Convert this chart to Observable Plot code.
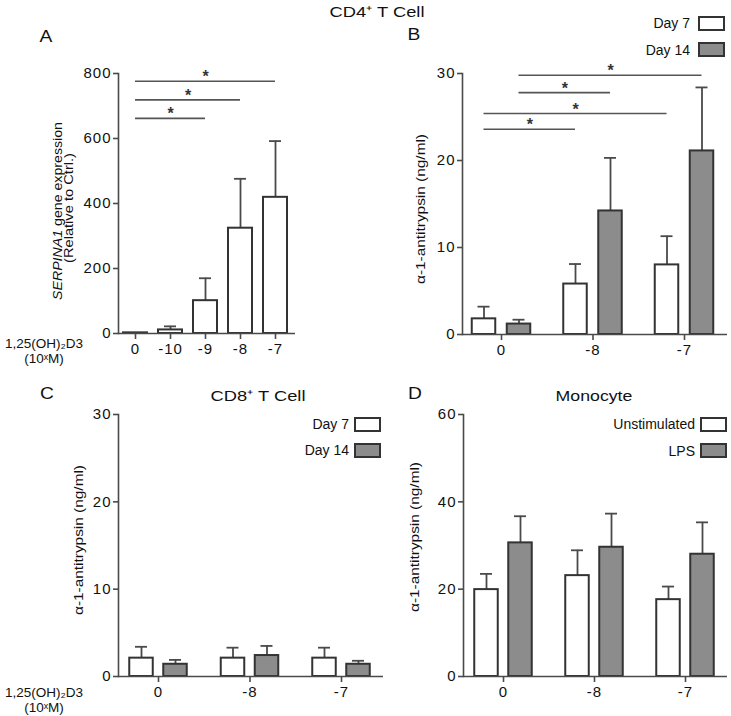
<!DOCTYPE html>
<html><head><meta charset="utf-8">
<script src="https://cdn.jsdelivr.net/npm/d3@7"></script>
<script src="https://cdn.jsdelivr.net/npm/@observablehq/plot@0.6"></script>
<style>
body{margin:0;background:#fff;}
#fig{position:relative;width:731px;height:716px;font-family:"Liberation Sans",Arial,sans-serif;color:#111;overflow:hidden;background:#fff}
.t{position:absolute;white-space:nowrap;line-height:1}
.wrap{position:absolute}
#labels{position:absolute;left:0;top:0;overflow:visible;pointer-events:none}
</style></head><body><div id="fig"></div>
<script>
// ---------- data ----------
// Panel A: CD4+ T cell, SERPINA1 gene expression (relative to control)
const doseA = ["0", "-10", "-9", "-8", "-7"];
const serpinaMean = [2, 11, 101, 324, 419];
const serpinaErr = [0, 11, 69, 152, 173];
const sigAFrom = ["0", "0", "0"];
const sigATo = ["-7", "-8", "-9"];
const sigALevel = [776, 719, 662];

// Panel B: CD4+ T cell, alpha-1-antitrypsin (ng/ml)
const doseB = ["0", "-8", "-7"];
const cd4Day7Mean = [1.8, 5.8, 8.0];
const cd4Day7Err = [1.4, 2.3, 3.3];
const cd4Day14Mean = [1.2, 14.2, 21.1];
const cd4Day14Err = [0.5, 6.1, 7.3];
const sigBFrom = ["0", "0", "0", "0"];
const sigBTo = ["-7", "-8", "-7", "-8"];
const sigBSeries = ["Day 14", "Day 14", "Day 7", "Day 7"];
const sigBLevel = [29.8, 27.8, 25.4, 23.6];

// Panel C: CD8+ T cell
const doseC = ["0", "-8", "-7"];
const cd8Day7Mean = [2.1, 2.1, 2.1];
const cd8Day7Err = [1.3, 1.2, 1.2];
const cd8Day14Mean = [1.4, 2.4, 1.4];
const cd8Day14Err = [0.5, 1.1, 0.4];

// Panel D: Monocyte
const doseD = ["0", "-8", "-7"];
const unstimMean = [19.9, 23.1, 17.6];
const unstimErr = [3.6, 5.8, 3.0];
const lpsMean = [30.6, 29.6, 28.0];
const lpsErr = [6.1, 7.7, 7.3];

const ticksA = [0, 200, 400, 600, 800];
const ticks30 = [0, 10, 20, 30];
const ticks60 = [0, 20, 40, 60];

// ---------- styles ----------
const AX = "#4a4a4a", BAR = "#333", GREY = "#8c8c8c", FONT = '"Liberation Sans", Arial, sans-serif';
const fig = document.getElementById("fig");

function panel(o) {
  const n = o.doses.length;
  const step = (o.xRange[1] - o.xRange[0]) / (n - 1);
  const half = o.barPx / 2 / step;      // half bar width in index units
  const cap = o.capPx / 2 / step;       // half cap width
  const rows = o.series.flatMap(s => s.mean.map((v, i) => ({i, v, e: s.err[i], off: s.offPx / step, name: s.name})));
  const xi = d => o.doses.indexOf(d);
  const marks = [];
  const eb = rows.filter(r => r.e > 0);
  marks.push(Plot.ruleX(eb, {x: r => r.i + r.off, y1: "v", y2: r => r.v + r.e, stroke: AX, strokeWidth: 1.8}));
  marks.push(Plot.ruleY(eb, {y: r => r.v + r.e, x1: r => r.i + r.off - cap, x2: r => r.i + r.off + cap, stroke: AX, strokeWidth: 1.8}));
  for (const s of o.series) {
    const rs = rows.filter(r => r.name === s.name);
    marks.push(Plot.rectY(rs, {x1: r => r.i + r.off - half, x2: r => r.i + r.off + half, y1: 0, y2: "v",
      fill: s.fill, stroke: BAR, strokeWidth: 2}));
  }
  if (o.sig) {
    const offOf = name => (o.series.find(s => s.name === name).offPx) / step;
    marks.push(Plot.ruleY(o.sig, {y: "y", x1: d => xi(d.from) + offOf(d.series), x2: d => xi(d.to) + offOf(d.series), stroke: "#555", strokeWidth: 1.6}));
    marks.push(Plot.text(o.sig, {x: d => (xi(d.from) + xi(d.to)) / 2 + offOf(d.series), y: "y", text: () => "*", fontSize: 16, fontWeight: "bold", dy: -4, fill: "#333"}));
  }
  marks.push(Plot.ruleY([0], {stroke: AX, strokeWidth: 1.6}));
  marks.push(Plot.frame({anchor: "left", stroke: AX, strokeWidth: 1.6}));
  marks.push(Plot.axisY({ticks: o.yTicks, tickSize: 5, tickPadding: 2, fontSize: 15, stroke: AX, strokeWidth: 1.6, fill: "#111", label: null}));
  marks.push(Plot.axisX({ticks: o.doses.map((_, i) => i), tickFormat: i => o.doses[i], tickSize: 6, tickPadding: 4, fontSize: 15, stroke: AX, strokeWidth: 1.6, fill: "#111", label: null}));

  const chart = Plot.plot({
    width: o.width, height: o.height,
    marginLeft: o.mL, marginRight: o.mR, marginTop: o.mT, marginBottom: o.mB,
    x: {type: "linear", domain: [0, n - 1], range: o.xRange},
    y: {domain: o.yDomain},
    style: {background: "transparent", overflow: "visible", fontFamily: FONT, maxWidth: "none"},
    marks
  });
  chart.querySelectorAll('g[aria-label="y-axis tick label"] text, g[aria-label="x-axis tick label"] text')
    .forEach(t => t.style.letterSpacing = "1px");
  const w = document.createElement("div");
  w.className = "wrap";
  w.style.left = o.left + "px"; w.style.top = o.top + "px"; w.style.width = o.width + "px"; w.style.height = o.height + "px";
  w.appendChild(chart);
  fig.appendChild(w);
}

const zipSig = (from, to, level, series) => from.map((f, k) => ({from: f, to: to[k], y: level[k], series: series ? series[k] : "s"}));

panel({left: 0, top: 0, width: 365, height: 360, mL: 118, mR: 70, mT: 73, mB: 27,
  doses: doseA, xRange: [135, 275], yDomain: [0, 800], yTicks: ticksA, barPx: 24, capPx: 12,
  series: [{name: "s", mean: serpinaMean, err: serpinaErr, fill: "white", offPx: 0}],
  sig: zipSig(sigAFrom, sigATo, sigALevel)});

panel({left: 365, top: 0, width: 366, height: 360, mL: 97, mR: 4, mT: 73, mB: 26,
  doses: doseB, xRange: [136, 319], yDomain: [0, 30], yTicks: ticks30, barPx: 23.5, capPx: 12,
  series: [{name: "Day 7", mean: cd4Day7Mean, err: cd4Day7Err, fill: "white", offPx: -17.5},
           {name: "Day 14", mean: cd4Day14Mean, err: cd4Day14Err, fill: GREY, offPx: 17.5}],
  sig: zipSig(sigBFrom, sigBTo, sigBLevel, sigBSeries)});

panel({left: 0, top: 360, width: 386, height: 356, mL: 118, mR: 3, mT: 54, mB: 40,
  doses: doseC, xRange: [158, 341], yDomain: [0, 30], yTicks: ticks30, barPx: 23.5, capPx: 12,
  series: [{name: "Day 7", mean: cd8Day7Mean, err: cd8Day7Err, fill: "white", offPx: -17},
           {name: "Day 14", mean: cd8Day14Mean, err: cd8Day14Err, fill: GREY, offPx: 17}]});

panel({left: 365, top: 360, width: 366, height: 356, mL: 98, mR: 4, mT: 54, mB: 40,
  doses: doseD, xRange: [138, 320], yDomain: [0, 60], yTicks: ticks60, barPx: 23.5, capPx: 12,
  series: [{name: "Unstimulated", mean: unstimMean, err: unstimErr, fill: "white", offPx: -17},
           {name: "LPS", mean: lpsMean, err: lpsErr, fill: GREY, offPx: 17}]});

// ---------- text ----------
function T(x, y, html, size, anchor = "middle", sx = 1, lh) {
  const d = document.createElement("div");
  d.className = "t";
  const tx = anchor === "middle" ? "-50%" : anchor === "end" ? "-100%" : "0";
  const origin = anchor === "middle" ? "50% 50%" : anchor === "end" ? "100% 50%" : "0 50%";
  d.style.cssText = `left:${x}px;top:${y}px;font-size:${size}px;line-height:${lh || size}px;text-align:center;transform-origin:${origin};transform:translate(${tx},-50%) scaleX(${sx});`;
  d.innerHTML = html;
  fig.appendChild(d);
  return d;
}
function box(x, y, fill) {
  const d = document.createElement("div");
  d.style.cssText = `position:absolute;left:${x}px;top:${y}px;width:27px;height:15px;box-sizing:border-box;border:2px solid ${BAR};background:${fill};`;
  fig.appendChild(d);
}

// rotated axis titles in an overlay svg, stretched with textLength like the reference lettering
const NS = "http://www.w3.org/2000/svg";
const ov = document.createElementNS(NS, "svg");
ov.setAttribute("id", "labels"); ov.setAttribute("width", 731); ov.setAttribute("height", 716);
fig.appendChild(ov);
function V(x, y, parts, size, len) {
  const t = document.createElementNS(NS, "text");
  t.setAttribute("x", x); t.setAttribute("y", y);
  t.setAttribute("text-anchor", "middle"); t.setAttribute("dominant-baseline", "central");
  t.setAttribute("transform", `rotate(-90 ${x} ${y})`);
  t.setAttribute("font-size", size); t.setAttribute("font-family", FONT); t.setAttribute("fill", "#111");
  t.setAttribute("textLength", len); t.setAttribute("lengthAdjust", "spacingAndGlyphs");
  for (const [txt, ital] of parts) {
    const s = document.createElementNS(NS, "tspan");
    if (ital) s.setAttribute("font-style", "italic");
    s.textContent = txt; t.appendChild(s);
  }
  ov.appendChild(t);
}

T(377, 11, "CD4⁺ T Cell", 15, "middle", 1.22);
T(46, 37, "A", 16, "middle", 1.2); T(414, 35, "B", 16, "middle", 1.2); T(47, 394, "C", 16, "middle", 1.2); T(415, 394, "D", 16, "middle", 1.2);
T(258, 395, "CD8⁺ T Cell", 15, "middle", 1.22);
T(594, 395, "Monocyte", 15, "middle", 1.18);

V(56.5, 211, [["SERPINA1", true], [" gene expression", false]], 13, 178);
V(68, 208, [["(Relative to Ctrl.)", false]], 13, 110);
V(420, 209, [["α-1-antitrypsin (ng/ml)", false]], 13, 150);
V(78, 540, [["α-1-antitrypsin (ng/ml)", false]], 13, 150);
V(414, 537, [["α-1-antitrypsin (ng/ml)", false]], 13, 150);

T(44, 351, "1,25(OH)₂D3<br>(10ˣM)", 13.5, "middle", 1, 15);
T(44, 700, "1,25(OH)₂D3<br>(10ˣM)", 13.5, "middle", 1, 15);

// legends
T(690, 23, "Day 7", 14, "end"); box(698, 16, "white");
T(690, 50, "Day 14", 14, "end"); box(698, 42, GREY);
T(349, 424, "Day 7", 14, "end"); box(354, 417, "white");
T(349, 450, "Day 14", 14, "end"); box(354, 443, GREY);
T(695, 424, "Unstimulated", 14, "end"); box(700, 417, "white");
T(695, 451, "LPS", 14, "end"); box(700, 443, GREY);
</script></body></html>
